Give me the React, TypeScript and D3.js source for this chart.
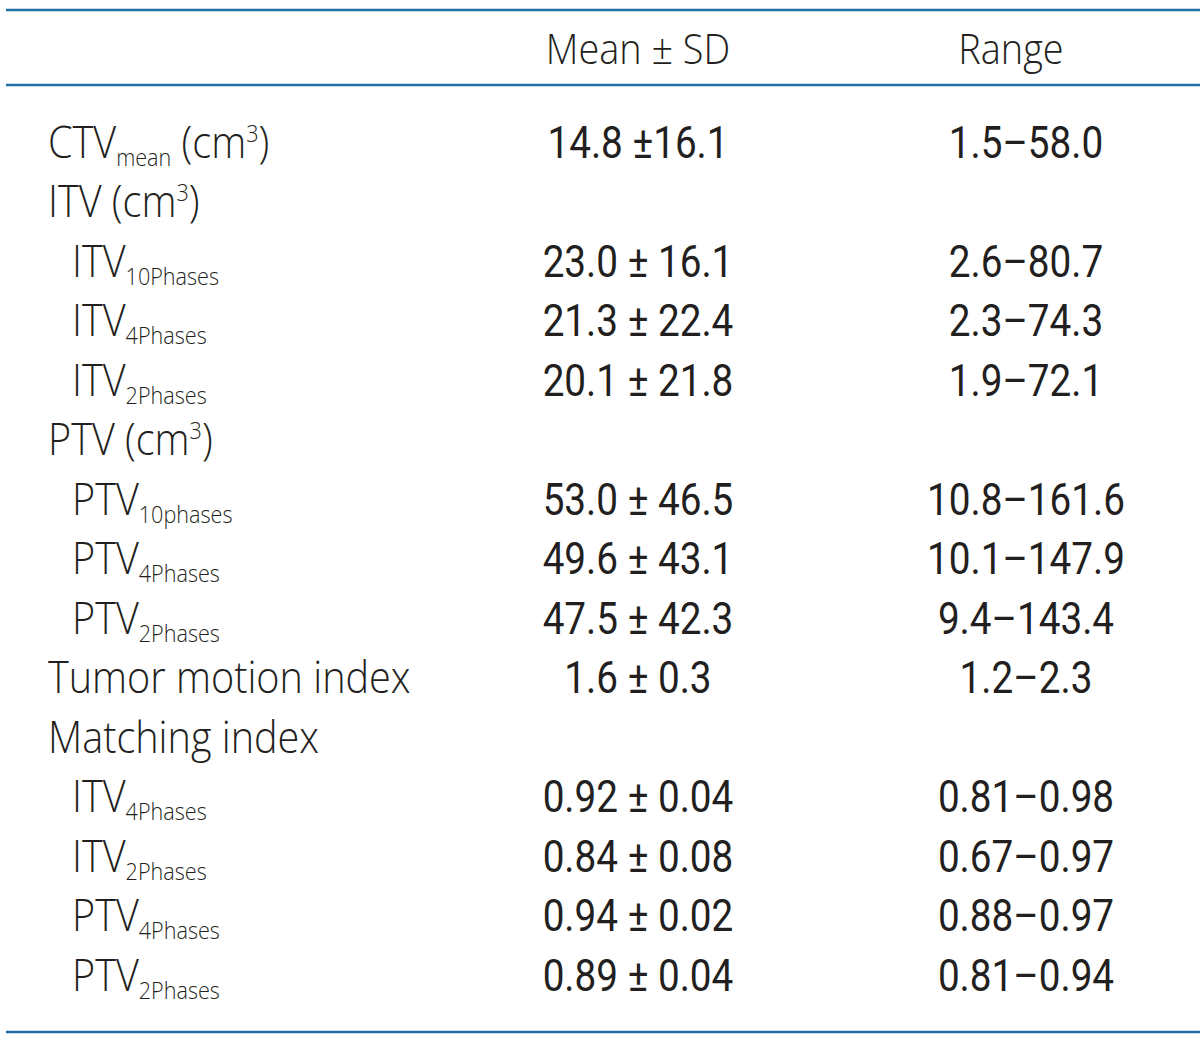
import React, { useEffect } from "react";
import * as d3 from "d3";

type Label = { main: string; sub?: string; sup?: string; tail?: string; indent: number };

const labels: Label[] = [
  { main: "CTV", sub: "mean", tail: " (cm", sup: "3", indent: 0 },
  { main: "ITV (cm", sup: "3", indent: 0 },
  { main: "ITV", sub: "10Phases", indent: 1 },
  { main: "ITV", sub: "4Phases", indent: 1 },
  { main: "ITV", sub: "2Phases", indent: 1 },
  { main: "PTV (cm", sup: "3", indent: 0 },
  { main: "PTV", sub: "10phases", indent: 1 },
  { main: "PTV", sub: "4Phases", indent: 1 },
  { main: "PTV", sub: "2Phases", indent: 1 },
  { main: "Tumor motion index", indent: 0 },
  { main: "Matching index", indent: 0 },
  { main: "ITV", sub: "4Phases", indent: 1 },
  { main: "ITV", sub: "2Phases", indent: 1 },
  { main: "PTV", sub: "4Phases", indent: 1 },
  { main: "PTV", sub: "2Phases", indent: 1 },
];

const meanSD: string[] = [
  "14.8 ±16.1", "", "23.0 ± 16.1", "21.3 ± 22.4", "20.1 ± 21.8", "",
  "53.0 ± 46.5", "49.6 ± 43.1", "47.5 ± 42.3", "1.6 ± 0.3", "",
  "0.92 ± 0.04", "0.84 ± 0.08", "0.94 ± 0.02", "0.89 ± 0.04",
];

const ranges: string[] = [
  "1.5–58.0", "", "2.6–80.7", "2.3–74.3", "1.9–72.1", "",
  "10.8–161.6", "10.1–147.9", "9.4–143.4", "1.2–2.3", "",
  "0.81–0.98", "0.67–0.97", "0.88–0.97", "0.81–0.94",
];

const headers: string[] = ["Mean ± SD", "Range"];

const W = 1200;
const H = 1038;
const LINE = "#1f6ea5";
const TEXT = "#231f20";
const LABEL_FONT = "'Open Sans', 'Noto Sans', sans-serif";
const NUM_FONT = "Roboto, 'Liberation Sans Narrow', sans-serif";

const sx = (x: number, k: number) => `translate(${x},0) scale(${k},1) translate(${-x},0)`;

export default function App() {
  useEffect(() => {
    document.body.style.margin = "0";
  }, []);

  const y = d3.scaleLinear().domain([0, labels.length - 1]).range([158, 991]);
  const col = d3.scaleOrdinal<string, number>().domain(["mean", "range"]).range([638, 1026]);
  const indentX = d3.scaleLinear().domain([0, 1]).range([48, 72]);

  return (
    <svg width={W} height={H} style={{ display: "block", background: "#fff" }}>
      <line x1={6} x2={W} y1={10} y2={10} stroke={LINE} strokeWidth={2.5} />
      <line x1={6} x2={W} y1={85} y2={85} stroke={LINE} strokeWidth={2.5} />
      <line x1={6} x2={W} y1={1032} y2={1032} stroke={LINE} strokeWidth={2.5} />

      <text x={col("mean")} y={64} textAnchor="middle" fontFamily={LABEL_FONT} fontWeight={350} fontSize={43} fill={TEXT}
        transform={sx(col("mean"), 0.88)}>
        {headers[0]}
      </text>
      <text x={1011} y={64} textAnchor="middle" fontFamily={LABEL_FONT} fontWeight={350} fontSize={43} fill={TEXT}
        transform={sx(1011, 0.88)}>
        {headers[1]}
      </text>

      {labels.map((l, i) => {
        const x0 = indentX(l.indent);
        return (
          <text key={"l" + i} x={x0} y={y(i)} fontFamily={LABEL_FONT} fontWeight={350} fontSize={44} fill={TEXT}
            transform={sx(x0, 0.9)}>
            <tspan>{l.main}</tspan>
            {l.sub && <tspan fontSize={24} dy={8}>{l.sub}</tspan>}
            {l.sub && l.tail && <tspan dy={-8}>{l.tail}</tspan>}
            {l.sup && <tspan fontSize={24} dy={-16}>{l.sup}</tspan>}
            {l.sup && <tspan dy={16}>)</tspan>}
          </text>
        );
      })}

      {meanSD.map((v, i) => v && (
        <text key={"m" + i} x={col("mean")} y={y(i)} textAnchor="middle" fontFamily={NUM_FONT} fontWeight={400} fontSize={45} fill={TEXT}
          transform={sx(col("mean"), 0.86)}>
          {v}
        </text>
      ))}
      {ranges.map((v, i) => v && (
        <text key={"r" + i} x={col("range")} y={y(i)} textAnchor="middle" fontFamily={NUM_FONT} fontWeight={400} fontSize={45} fill={TEXT}
          transform={sx(col("range"), 0.86)}>
          {v}
        </text>
      ))}
    </svg>
  );
}
